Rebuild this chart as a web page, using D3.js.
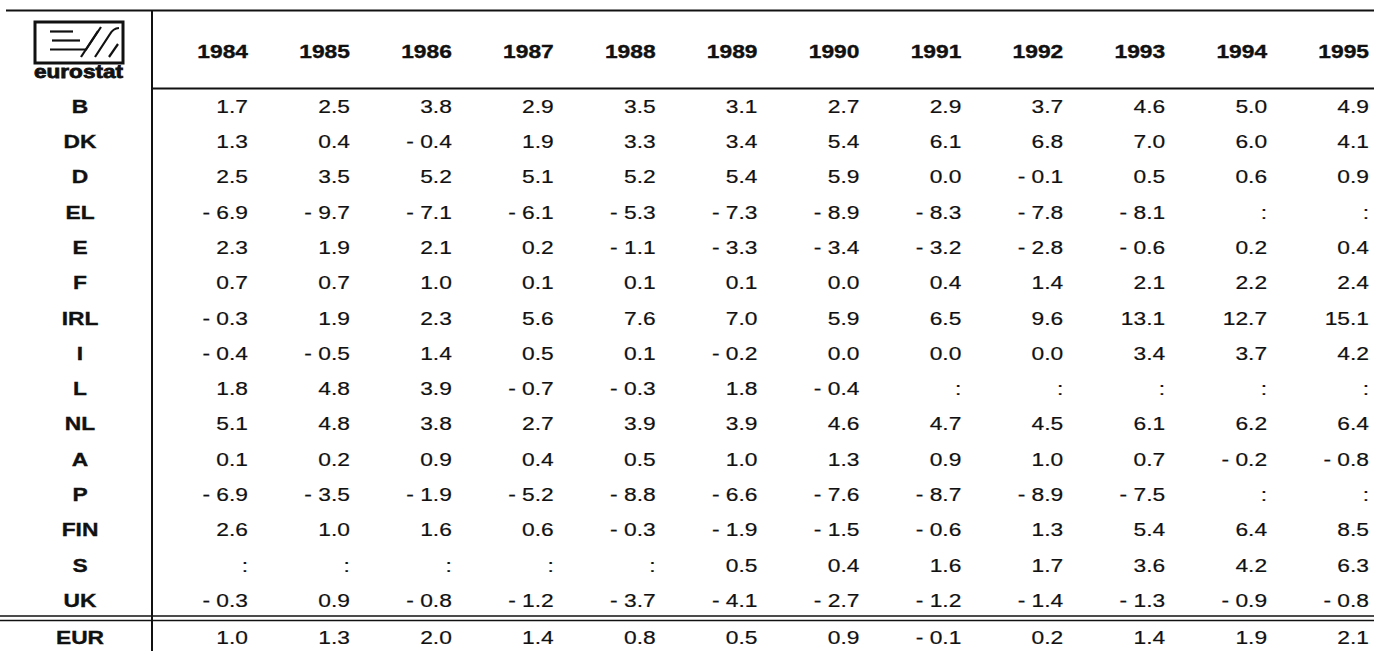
<!DOCTYPE html>
<html>
<head>
<meta charset="utf-8">
<script src="https://cdn.jsdelivr.net/npm/d3@7"></script>
<style>
  html, body { margin: 0; padding: 0; background: #fff; }
  svg { display: block; }
  text { font-family: "Liberation Sans", Arial, Helvetica, sans-serif; fill: #111; }
</style>
</head>
<body>
<svg id="chart" width="1374" height="651"></svg>
<script>
// ---- data ----
const years = ["1984","1985","1986","1987","1988","1989","1990","1991","1992","1993","1994","1995"];
const countries = ["B","DK","D","EL","E","F","IRL","I","L","NL","A","P","FIN","S","UK"];
const B   = [1.7, 2.5, 3.8, 2.9, 3.5, 3.1, 2.7, 2.9, 3.7, 4.6, 5.0, 4.9];
const DK  = [1.3, 0.4, -0.4, 1.9, 3.3, 3.4, 5.4, 6.1, 6.8, 7.0, 6.0, 4.1];
const D   = [2.5, 3.5, 5.2, 5.1, 5.2, 5.4, 5.9, 0.0, -0.1, 0.5, 0.6, 0.9];
const EL  = [-6.9, -9.7, -7.1, -6.1, -5.3, -7.3, -8.9, -8.3, -7.8, -8.1, null, null];
const E   = [2.3, 1.9, 2.1, 0.2, -1.1, -3.3, -3.4, -3.2, -2.8, -0.6, 0.2, 0.4];
const F   = [0.7, 0.7, 1.0, 0.1, 0.1, 0.1, 0.0, 0.4, 1.4, 2.1, 2.2, 2.4];
const IRL = [-0.3, 1.9, 2.3, 5.6, 7.6, 7.0, 5.9, 6.5, 9.6, 13.1, 12.7, 15.1];
const I   = [-0.4, -0.5, 1.4, 0.5, 0.1, -0.2, 0.0, 0.0, 0.0, 3.4, 3.7, 4.2];
const L   = [1.8, 4.8, 3.9, -0.7, -0.3, 1.8, -0.4, null, null, null, null, null];
const NL  = [5.1, 4.8, 3.8, 2.7, 3.9, 3.9, 4.6, 4.7, 4.5, 6.1, 6.2, 6.4];
const A   = [0.1, 0.2, 0.9, 0.4, 0.5, 1.0, 1.3, 0.9, 1.0, 0.7, -0.2, -0.8];
const P   = [-6.9, -3.5, -1.9, -5.2, -8.8, -6.6, -7.6, -8.7, -8.9, -7.5, null, null];
const FIN = [2.6, 1.0, 1.6, 0.6, -0.3, -1.9, -1.5, -0.6, 1.3, 5.4, 6.4, 8.5];
const S   = [null, null, null, null, null, 0.5, 0.4, 1.6, 1.7, 3.6, 4.2, 6.3];
const UK  = [-0.3, 0.9, -0.8, -1.2, -3.7, -4.1, -2.7, -1.2, -1.4, -1.3, -0.9, -0.8];
const EUR = [1.0, 1.3, 2.0, 1.4, 0.8, 0.5, 0.9, -0.1, 0.2, 1.4, 1.9, 2.1];
const totalLabel = "EUR";

const rowValues = [B, DK, D, EL, E, F, IRL, I, L, NL, A, P, FIN, S, UK];

// ---- layout ----
const W = 1374, H = 651;
const svg = d3.select("#chart");
const FS = 19, SX = 1.2;

const x = d3.scalePoint().domain(years).range([248, 1369]);
const y = d3.scalePoint().domain(countries).range([106, 600]);
const yTotal = 637;
const labelX = 80;
const sepX = 152;

const fmt = v => v === null ? ":" : (v < 0 ? "- " + Math.abs(v).toFixed(1) : v.toFixed(1));

function txt(g, tx, ty, s, anchor, weight) {
  g.append("text")
    .attr("transform", `translate(${tx},${ty}) scale(${SX},1)`)
    .attr("text-anchor", anchor)
    .attr("dy", "0.36em")
    .attr("font-size", FS)
    .attr("font-weight", weight || "normal")
    .attr("stroke", "#111")
    .attr("stroke-width", weight === "bold" ? 0.35 : 0.2)
    .text(s);
}

// ---- rules ----
const rules = svg.append("g").attr("stroke", "#111").attr("fill", "none");
rules.append("line").attr("x1", 6).attr("x2", W).attr("y1", 10.5).attr("y2", 10.5).attr("stroke-width", 2);
rules.append("line").attr("x1", sepX).attr("x2", sepX).attr("y1", 10).attr("y2", H).attr("stroke-width", 2);
rules.append("line").attr("x1", sepX).attr("x2", W).attr("y1", 88.5).attr("y2", 88.5).attr("stroke-width", 2);
rules.append("line").attr("x1", 0).attr("x2", W).attr("y1", 616).attr("y2", 616).attr("stroke-width", 1.6);
rules.append("line").attr("x1", 0).attr("x2", W).attr("y1", 620.5).attr("y2", 620.5).attr("stroke-width", 1.6);

// ---- logo ----
const logo = svg.append("g").attr("stroke", "#111").attr("fill", "none");
logo.append("rect").attr("x", 35).attr("y", 22).attr("width", 88).attr("height", 41).attr("stroke-width", 3);
const lg = logo.append("g").attr("stroke-width", 2.2);
lg.append("path").attr("d", "M50,31.5 H73");
lg.append("path").attr("d", "M52,40.5 H80");
lg.append("path").attr("d", "M50,49.5 H86 L101,27");
lg.append("path").attr("d", "M81,57 L98,31");
lg.append("path").attr("d", "M95,57 L110,34 Q113,28.5 119,28");
lg.append("path").attr("d", "M109,57 L118,44");
svg.append("text").attr("x", 34).attr("y", 78).attr("font-size", 19).attr("font-weight", "bold")
  .attr("stroke", "#111").attr("stroke-width", 0.8)
  .attr("textLength", 89).attr("lengthAdjust", "spacingAndGlyphs").text("eurostat");

// ---- header ----
const head = svg.append("g");
years.forEach(yr => txt(head, x(yr), 51, yr, "end", "bold"));

// ---- body ----
const body = svg.append("g");
countries.forEach((c, i) => {
  txt(body, labelX, y(c), c, "middle", "bold");
  rowValues[i].forEach((v, j) => txt(body, x(years[j]), y(c), fmt(v), "end"));
});
txt(body, labelX, yTotal, totalLabel, "middle", "bold");
EUR.forEach((v, j) => txt(body, x(years[j]), yTotal, fmt(v), "end"));
</script>
</body>
</html>
